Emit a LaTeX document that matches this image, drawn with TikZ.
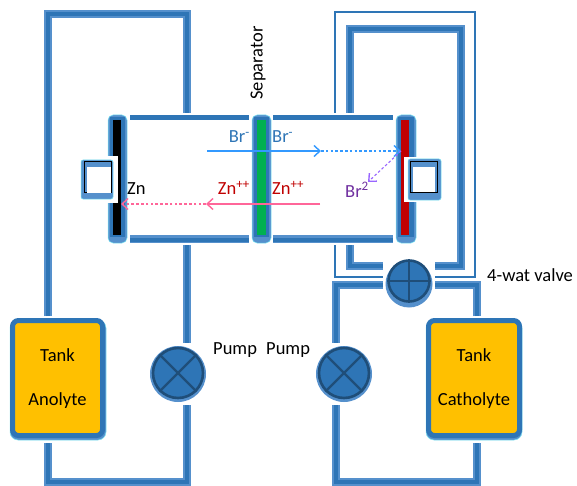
\documentclass[tikz,border=0pt]{standalone}
\usepackage{fontspec}
\setmainfont{Carlito}
\usetikzlibrary{arrows.meta}
\definecolor{pipeDark}{HTML}{2E75B6}
\definecolor{pipeMid}{HTML}{5590CC}
\definecolor{pipeGlow}{HTML}{7FE8F5}
\definecolor{ringDark}{HTML}{1F4E79}
\definecolor{tankFill}{HTML}{FFC000}
\definecolor{sepGreen}{HTML}{00B050}
\definecolor{redPlate}{HTML}{C00000}
\definecolor{brBlue}{HTML}{3399FF}
\definecolor{brText}{HTML}{2E75B6}
\definecolor{znPink}{HTML}{FF6699}
\definecolor{brPurple}{HTML}{9966FF}
\definecolor{purpleText}{HTML}{7030A0}
\tikzset{
  pipe/.style={line join=miter, draw=pipeGlow, line width=8pt,
    postaction={draw=pipeMid, line width=7.2pt},
    postaction={draw=pipeDark, line width=4.4pt}},
  thinpipe/.style={line join=miter, draw=pipeMid!50!white, line width=2.8pt,
    postaction={draw=pipeDark, line width=1.9pt}},
  txt/.style={inner sep=0pt, font=\fontsize{18.5}{20}\selectfont},
  pumpdisc/.style={circle, draw=ringDark, fill=pipeDark, line width=2.6pt, inner sep=0pt},
  tankbody/.style={rounded corners=6pt, draw=pipeDark, fill=tankFill, line width=5pt, inner sep=0pt},
  halo/.style={rounded corners=5pt, fill=pipeMid, draw=pipeGlow, line width=.5pt},
  plate/.style={rectangle, inner sep=0pt, draw=none},
  openarrow/.style={-{Straight Barb[length=6pt,width=11pt,line width=1.4pt]}},
  dotline/.style={dash pattern=on 2.6pt off 2.2pt},
}
\begin{document}
\begin{tikzpicture}[x=1pt,y=-1pt]
\useasboundingbox (0,0) rectangle (577,486);
\fill[white] (0,0) rectangle (577,486);

% ---- tanks as named nodes
\fill[halo, rounded corners=8pt] (10,320) rectangle (106,440);
\fill[halo, rounded corners=8pt] (426,320) rectangle (522,440);
\node[tankbody, minimum width=90pt, minimum height=115pt] (tankA) at (57.5,378) {};
\node[tankbody, minimum width=91pt, minimum height=115pt] (tankC) at (474,378) {};

% ---- named pipe junctions
\coordinate (aTop) at (48,14);
\coordinate (aTopR) at (187,14);
\coordinate (cellAin) at (187,113);
\coordinate (cellAout) at (187,245);
\coordinate (pumpAin) at (187,343);
\coordinate (pumpAout) at (187,405);
\coordinate (aBotR) at (187,482);
\coordinate (aBotL) at (48,482);
\coordinate (tankAtop) at (48,316);
\coordinate (tankAbot) at (48,443);

\coordinate (cTankTop) at (477,316);
\coordinate (cCorner) at (477,285);
\coordinate (vRight) at (435,285);
\coordinate (vLeft) at (383,285);
\coordinate (cCornerL) at (336,285);
\coordinate (pumpCin) at (336,343);
\coordinate (pumpCout) at (336,405);
\coordinate (cBotL) at (336,482);
\coordinate (cBotR) at (477,482);
\coordinate (cTankBot) at (477,443);

\coordinate (iTopL) at (350,29);
\coordinate (iTopR) at (461,29);
\coordinate (iDownL) at (350,113);
\coordinate (iUpL) at (350,245);
\coordinate (iCornerL) at (350,266);
\coordinate (iValveL) at (383,266);
\coordinate (iValveR) at (435,266);
\coordinate (iCornerR) at (461,266);

\coordinate (tTopL) at (335,12);
\coordinate (tTopR) at (475,12);
\coordinate (tDownL) at (335,113);
\coordinate (tUpL) at (335,245);
\coordinate (tCornerL) at (335,277);
\coordinate (tValveL) at (383,277);
\coordinate (tValveR) at (435,277);
\coordinate (tCornerR) at (475,277);

% ---- pipes
\draw[pipe] (tankAtop) -- (aTop) -- (aTopR) -- (cellAin);
\draw[pipe] (cellAout) -- (pumpAin);
\draw[pipe] (pumpAout) -- (aBotR) -- (aBotL) -- (tankAbot);
\draw[pipe] (cTankTop) -- (cCorner) -- (vRight);
\draw[pipe] (vLeft) -- (cCornerL) -- (pumpCin);
\draw[pipe] (pumpCout) -- (cBotL) -- (cBotR) -- (cTankBot);
\draw[pipe] (iDownL) -- (iTopL) -- (iTopR) -- (iCornerR) -- (iValveR);
\draw[pipe] (iUpL) -- (iCornerL) -- (iValveL);
\draw[thinpipe] (tDownL) -- (tTopL) -- (tTopR) -- (tCornerR) -- (tValveR);
\draw[thinpipe] (tUpL) -- (tCornerL) -- (tValveL);

% ---- cell walls
\coordinate (wTL1) at (130,117.5);
\coordinate (wTL2) at (249,117.5);
\coordinate (wTR1) at (273,117.5);
\coordinate (wTR2) at (393,117.5);
\coordinate (wBL1) at (130,239);
\coordinate (wBL2) at (249,239);
\coordinate (wBR1) at (273,239);
\coordinate (wBR2) at (393,239);
\draw[pipeGlow, line width=5.4pt] (wTL1) -- (wTL2) (wTR1) -- (wTR2);
\draw[pipeDark, line width=4.2pt] (wTL1) -- (wTL2) (wTR1) -- (wTR2);
\draw[pipeGlow, line width=8pt] (wBL1) -- (wBL2) (wBR1) -- (wBR2);
\draw[pipeMid, line width=7.2pt] (wBL1) -- (wBL2) (wBR1) -- (wBR2);
\draw[pipeDark, line width=4pt] ([yshift=-1pt]wBL1) -- ([yshift=-1pt]wBL2) ([yshift=-1pt]wBR1) -- ([yshift=-1pt]wBR2);

% ---- plates
\fill[halo] (108,115) rectangle (127,243);
\fill[pipeDark] (110,117) rectangle (125,237);
\node[plate, fill=black, minimum width=8pt, minimum height=115pt] (anode) at (117,177.5) {};
\fill[halo] (252,115) rectangle (271,243);
\fill[pipeDark] (254,117) rectangle (269,237);
\node[plate, fill=sepGreen, minimum width=9pt, minimum height=115pt] (sep) at (261.5,177.5) {};
\fill[halo] (396,115) rectangle (416,243);
\fill[pipeDark] (398,117) rectangle (414,237);
\node[plate, fill=redPlate, minimum width=8pt, minimum height=115pt] (cathode) at (405,177.5) {};

% ---- terminals
\fill[white] (76,156) rectangle (118,203);
\fill[halo, rounded corners=2pt] (81,160) rectangle (113,199);
\node[plate, draw=black, line width=1.3pt, fill=pipeMid, minimum width=27pt, minimum height=31pt] (termA) at (98,177) {};
\fill[white] (87,167) rectangle (111,193);
\fill[white] (404,157) rectangle (445,202);
\fill[halo, rounded corners=2pt] (408,159) rectangle (441,200);
\node[plate, draw=black, line width=1.3pt, fill=pipeMid, minimum width=27pt, minimum height=31pt] (termC) at (424,177) {};
\fill[white] (413,167) rectangle (435,192.5);

% ---- pumps and valve
\fill[pipeMid] (178,374) circle (28);
\fill[pipeMid] (344,374) circle (28);
\fill[pipeMid] (409,284) circle (23.5);
\node[pumpdisc, minimum size=50pt] (pumpA) at (178,373) {};
\node[pumpdisc, minimum size=50pt] (pumpC) at (344,373) {};
\node[pumpdisc, minimum size=41pt] (valve) at (409,281) {};
\draw[ringDark, line width=2.2pt] (pumpA.45) -- (pumpA.225) (pumpA.135) -- (pumpA.315);
\draw[ringDark, line width=2.2pt] (pumpC.45) -- (pumpC.225) (pumpC.135) -- (pumpC.315);
\draw[ringDark, line width=2.2pt] (valve.north) -- (valve.south) (valve.west) -- (valve.east);

% ---- ion arrows
\coordinate (brStart) at (207,151);
\coordinate (brMid) at (321,151);
\coordinate (brEnd) at (401,151);
\coordinate (znStart) at (320,204);
\coordinate (znMid) at (206,204);
\coordinate (znEnd) at (121,204);
\coordinate (brTwo) at (368,182);
\draw[brBlue, line width=1.1pt, openarrow] (brStart) -- (brMid);
\draw[brBlue, line width=1.1pt, dotline, openarrow] (brMid) -- (brEnd);
\draw[znPink, line width=1.3pt, openarrow] (znStart) -- (znMid);
\draw[znPink, line width=1.3pt, dotline, openarrow] (znMid) -- (znEnd);
\draw[brPurple, line width=1.1pt, dotline, openarrow] (brEnd) -- (brTwo);

% ---- text
\node[txt, anchor=base west] (tZn) at (127,194) {Zn};
\node[txt, anchor=base east, text=brText] (tBrL) at (250,143) {Br\textsuperscript{-}};
\node[txt, anchor=base west, text=brText] (tBrR) at (272,143) {Br\textsuperscript{-}};
\node[txt, anchor=base east, text=redPlate] (tZnL) at (250,195) {Zn\textsuperscript{++}};
\node[txt, anchor=base west, text=redPlate] (tZnR) at (272,195) {Zn\textsuperscript{++}};
\node[txt, anchor=base west, text=purpleText] (tBr2) at (345,197) {Br\textsuperscript{2}};
\node[txt, rotate=90, anchor=center] (tSep) at (258,63) {Separator};
\node[txt, anchor=base west] (tValve) at (487,281) {4-wat valve};
\node[txt, anchor=base west] (tPumpL) at (213,354) {Pump};
\node[txt, anchor=base west] (tPumpR) at (266,354) {Pump};
\node[txt] (tTankA) at (tankA |- 0,355) {Tank};
\node[txt] (tAno) at (tankA |- 0,401) {Anolyte};
\node[txt] (tTankC) at (tankC |- 0,355) {Tank};
\node[txt] (tCat) at (tankC |- 0,401) {Catholyte};
\end{tikzpicture}
\end{document}
